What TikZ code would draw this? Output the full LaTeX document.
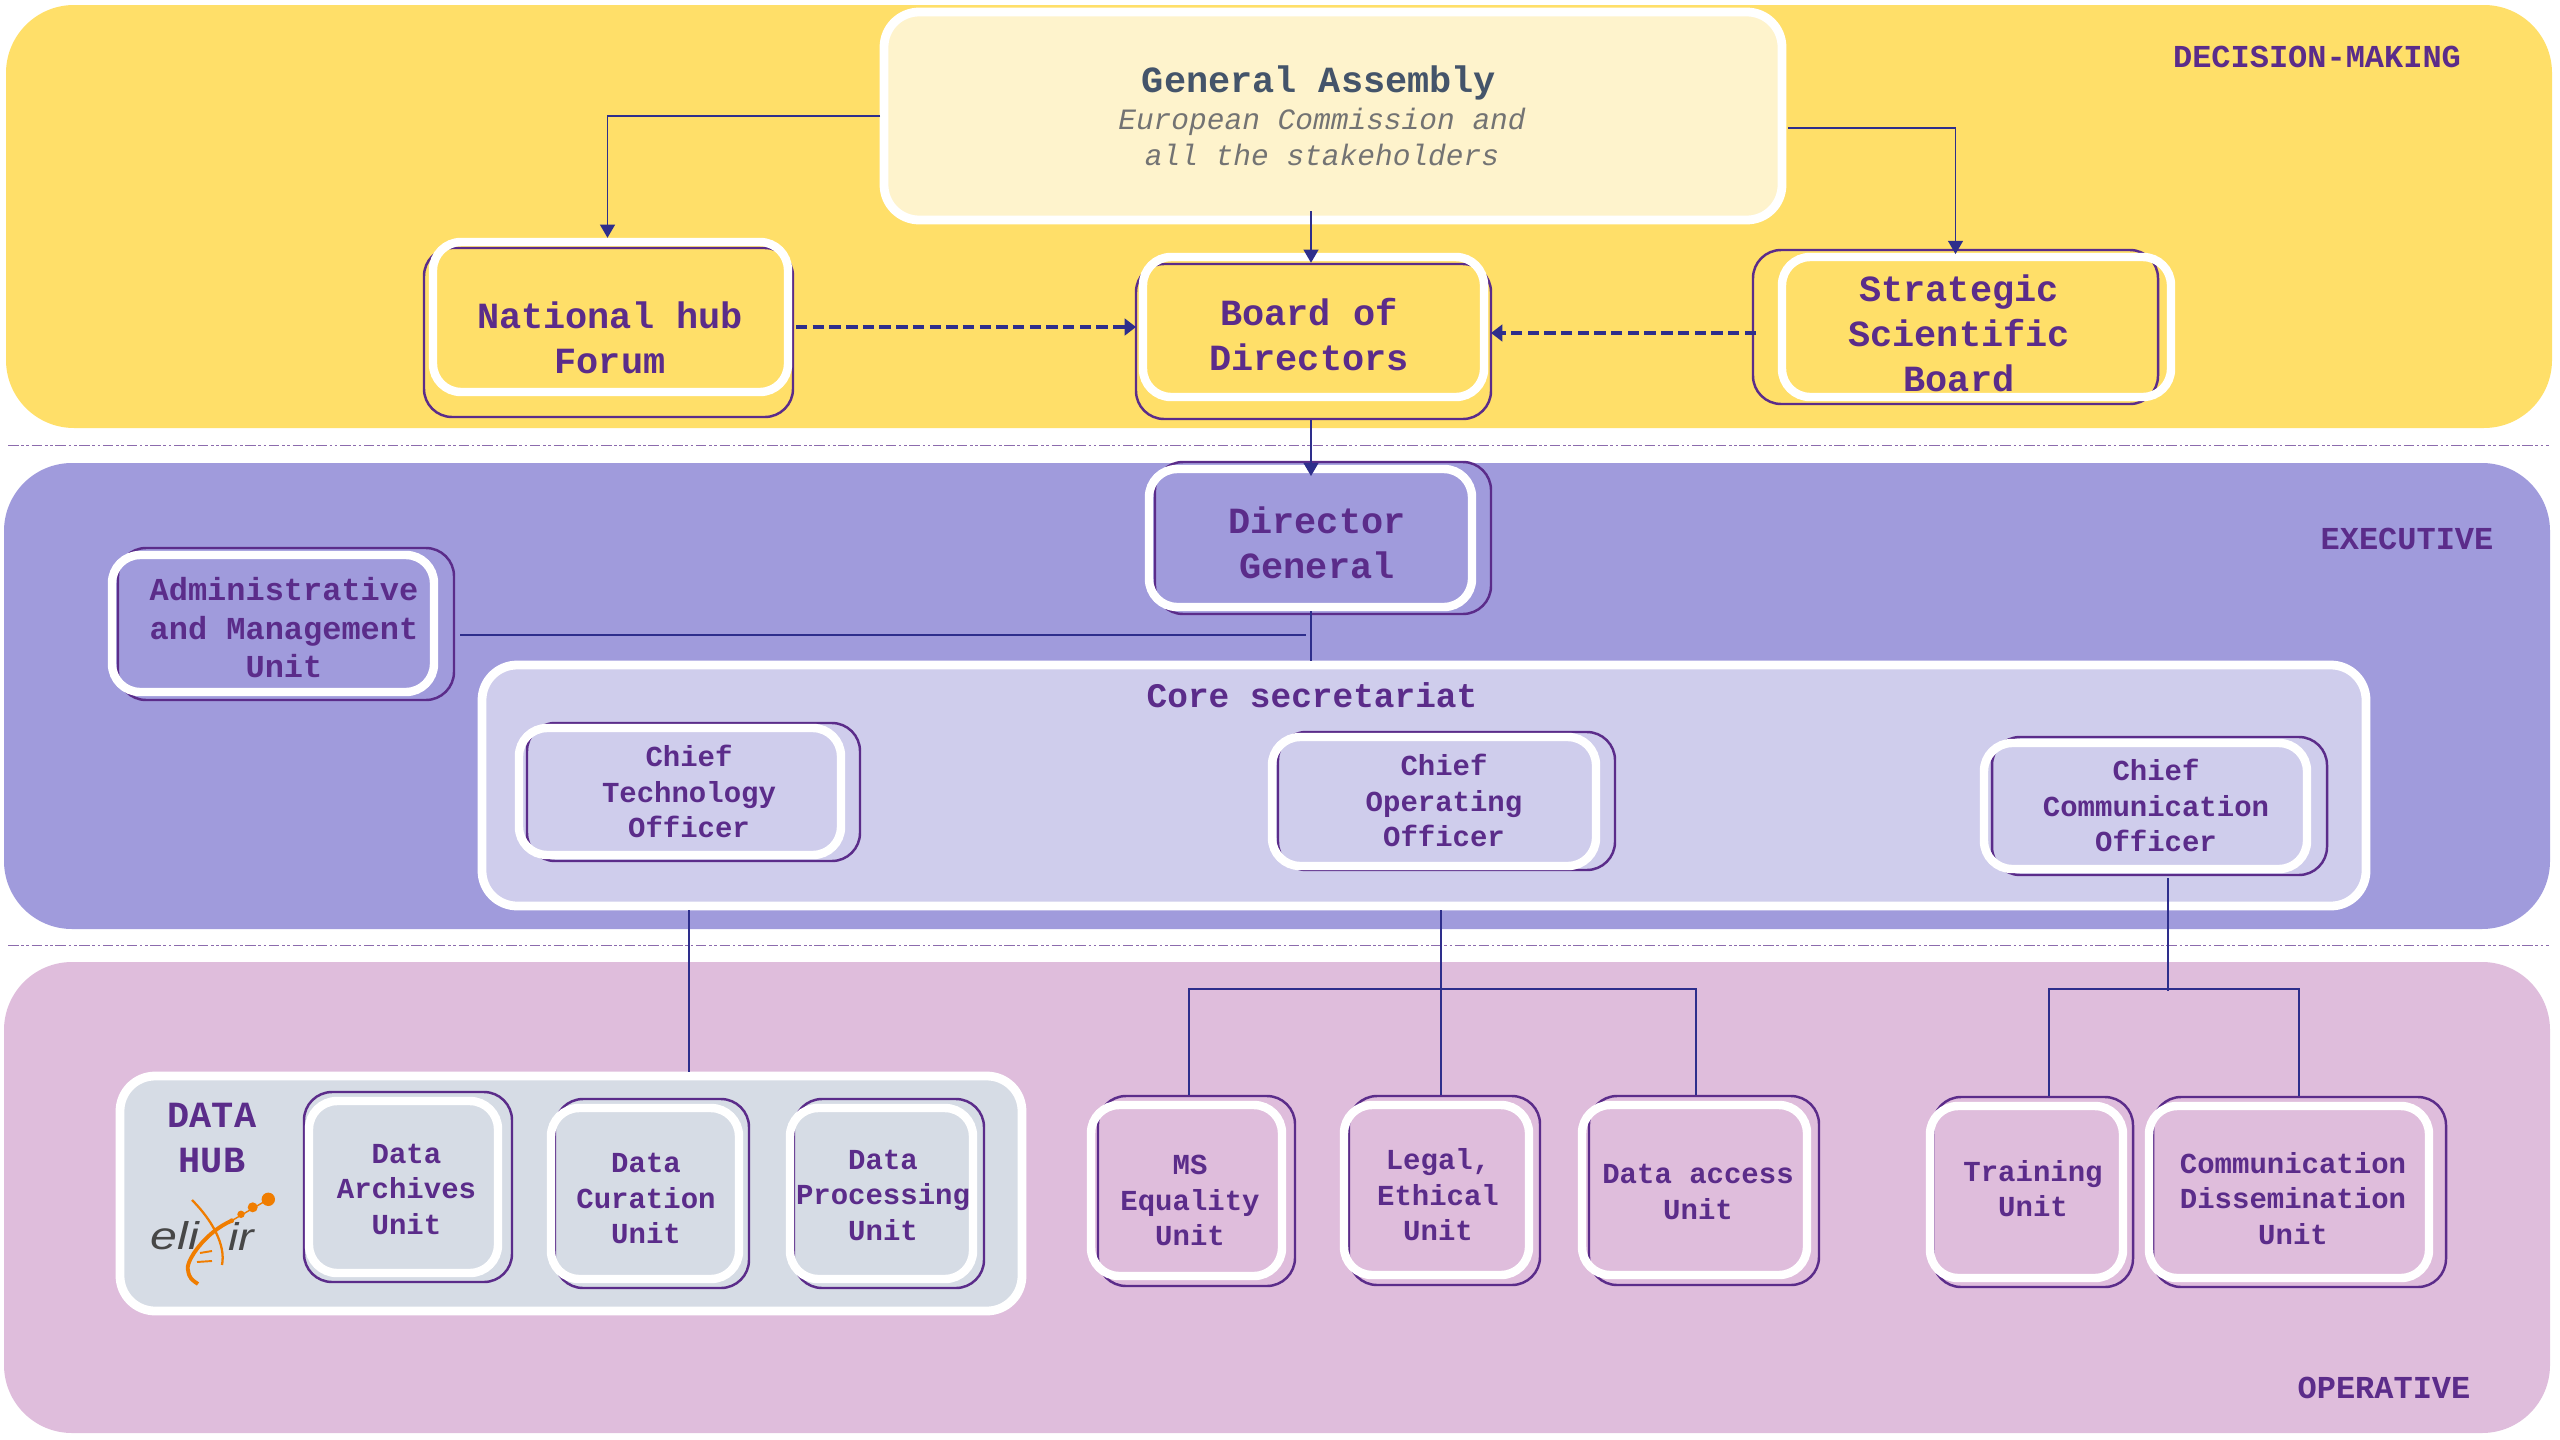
\documentclass[tikz,border=0pt]{standalone}
\usepackage{fontspec}
\setmainfont{Liberation Mono}
\newfontfamily\logofont{Liberation Sans}
\usetikzlibrary{fit,arrows.meta}

\definecolor{tierY}{HTML}{FFDF69}
\definecolor{tierP}{HTML}{A09BDC}
\definecolor{tierR}{HTML}{DFBDDC}
\definecolor{coreC}{HTML}{CFCDEC}
\definecolor{hubC}{HTML}{D6DCE5}
\definecolor{gaC}{HTML}{FEF3CC}
\definecolor{inkC}{HTML}{5B2C8A}
\definecolor{slateC}{HTML}{44546A}
\definecolor{lineC}{HTML}{2E2E8C}
\definecolor{orangeC}{HTML}{F07D00}

\tikzset{
  tier/.style={inner sep=0pt,rounded corners=68*0.02cm},
  frame/.style={draw=inkC,line width=1.4pt,inner sep=0pt,rounded corners=16pt},
  wbox/.style={draw=white,line width=4.8pt,inner sep=0pt,rounded corners=16pt},
  bbox/.style={draw=white,line width=5pt,inner sep=0pt,rounded corners=20pt},
  big/.style={inner sep=0pt,align=center,text=inkC,font=\bfseries\fontsize{21}{25.6}\selectfont},
  small/.style={inner sep=0pt,align=center,text=inkC,font=\bfseries\fontsize{16.5}{20.2}\selectfont},
  tag/.style={inner sep=0pt,text=inkC,font=\bfseries\fontsize{18.2}{22}\selectfont},
  link/.style={draw=lineC,line width=0.85pt},
  linkto/.style={link,-{Triangle[length=7.5pt,width=8.5pt]}},
  dashto/.style={draw=lineC,line width=1.9pt,dash pattern=on 6.5pt off 3pt,-{Triangle[length=6.5pt,width=9.5pt]}},
  sep/.style={draw=inkC!70,line width=0.5pt,dash pattern=on 6pt off 1.5pt on 1.5pt off 1.5pt on 1.5pt off 1.5pt}
}

\begin{document}
\begin{tikzpicture}[x=0.02cm,y=-0.02cm]
  \useasboundingbox (0,0) rectangle (2560,1440);

  % tiers
  \node (decision) [tier,fill=tierY,fit={(6,5) (2552,428)}] {};
  \node (executive) [tier,fill=tierP,fit={(4,463) (2550,929)}] {};
  \node (operative) [tier,fill=tierR,fit={(4,962) (2550,1433)}] {};
  \node (decisiontag) at (2317,57) [tag] {DECISION-MAKING};
  \node (executivetag) at (2407,539) [tag] {EXECUTIVE};
  \node (operativetag) at (2384,1388) [tag] {OPERATIVE};

  \coordinate (sepa) at (8,445);
  \coordinate (sepb) at (2549,445);
  \coordinate (sepc) at (8,945);
  \coordinate (sepd) at (2549,945);
  \draw[sep] (sepa) to (sepb);
  \draw[sep] (sepc) to (sepd);

  % decision-making
  \node (ga) [bbox,fill=gaC,fit={(884,12) (1782,220)}] {};
  \node (gatitle) at (1319,83) [inner sep=0pt,text=slateC,font=\bfseries\fontsize{21}{25}\selectfont] {General Assembly};
  \node (gasub) at (1322,137) [inner sep=0pt,align=center,text=black!55,font=\itshape\fontsize{16.8}{20.6}\selectfont] {European Commission and\\all the stakeholders};

  \node (nhfframe) [frame,fit={(424,248) (793,417)}] {};
  \node (nhf) [wbox,fit={(433,242) (788,392)}] {};
  \node (nhftext) at (610,338) [big] {National hub\\Forum};

  \node (bodframe) [frame,fit={(1136,264) (1491,419)}] {};
  \node (bod) [wbox,fit={(1143,257) (1484,397)}] {};
  \node (bodtext) at (1309,335) [big] {Board of\\Directors};

  \node (ssbframe) [frame,fit={(1753,250) (2158,404)}] {};
  \node (ssb) [wbox,fit={(1782,257) (2171,397)}] {};
  \node (ssbtext) at (1959,333) [big] {Strategic\\Scientific\\Board};

  % executive
  \node (dgframe) [frame,fit={(1155,462) (1491,614)}] {};
  \node (dg) [wbox,fit={(1149,469) (1472,607)}] {};
  \node (dgtext) at (1317,542.5) [big] {Director\\General};

  \node (amuframe) [frame,fit={(118,548) (454,700)}] {};
  \node (amu) [wbox,fit={(112,555) (434,692)}] {};
  \node (amutext) at (284,628) [tag,align=center,font=\bfseries\fontsize{18.2}{21.9}\selectfont] {Administrative\\and Management\\Unit};

  \node (core) [bbox,fill=coreC,fit={(482,665) (2366,906)}] {};
  \node (coretitle) at (1312,695) [inner sep=0pt,text=inkC,font=\bfseries\fontsize{19.6}{24}\selectfont] {Core secretariat};

  \node (ctoframe) [frame,fit={(527,723) (860,861)}] {};
  \node (cto) [wbox,fit={(519,728) (841,855)}] {};
  \node (ctotext) at (689,791.5) [small] {Chief\\Technology\\Officer};

  \node (cooframe) [frame,fit={(1278,732) (1615,870)}] {};
  \node (coo) [wbox,fit={(1272,737) (1596,866)}] {};
  \node (cootext) at (1444,800.5) [small] {Chief\\Operating\\Officer};

  \node (ccoframe) [frame,fit={(1992,737) (2327,875)}] {};
  \node (cco) [wbox,fit={(1984,743) (2307,869)}] {};
  \node (ccotext) at (2156,805.5) [small] {Chief\\Communication\\Officer};

  % operative
  \node (hub) [bbox,fill=hubC,fit={(120,1076) (1022,1311)}] {};
  \node (hubtext) at (212,1138) [big] {DATA\\HUB};

  \node (dauframe) [frame,fit={(304,1092) (512,1282)}] {};
  \node (dau) [wbox,fit={(309,1101) (498,1273)}] {};
  \node (dautext) at (406.5,1189) [small] {Data\\Archives\\Unit};

  \node (dcuframe) [frame,fit={(555,1099) (749,1288)}] {};
  \node (dcu) [wbox,fit={(551,1108) (739,1279)}] {};
  \node (dcutext) at (646,1198.5) [small] {Data\\Curation\\Unit};

  \node (dpuframe) [frame,fit={(794,1099) (984,1288)}] {};
  \node (dpu) [wbox,fit={(790,1108) (973,1279)}] {};
  \node (dputext) at (883,1195) [small] {Data\\Processing\\Unit};

  \node (msuframe) [frame,fit={(1098,1096) (1295,1286)}] {};
  \node (msu) [wbox,fit={(1091,1105) (1282,1276)}] {};
  \node (msutext) at (1190,1200.5) [small] {MS\\Equality\\Unit};

  \node (leuframe) [frame,fit={(1349,1096) (1540,1285)}] {};
  \node (leu) [wbox,fit={(1344,1105) (1529,1275)}] {};
  \node (leutext) at (1438,1195) [small] {Legal,\\Ethical\\Unit};

  \node (dacframe) [frame,fit={(1589,1096) (1819,1285)}] {};
  \node (dac) [wbox,fit={(1582,1105) (1807,1275)}] {};
  \node (dactext) at (1698,1192) [small] {Data access\\Unit};

  \node (truframe) [frame,fit={(1933,1097) (2133,1287)}] {};
  \node (tru) [wbox,fit={(1930,1106) (2123,1278)}] {};
  \node (trutext) at (2033,1188.5) [small] {Training\\Unit};

  \node (cduframe) [frame,fit={(2153,1097) (2446,1287)}] {};
  \node (cdu) [wbox,fit={(2149,1106) (2429,1278)}] {};
  \node (cdutext) at (2293,1198.5) [small] {Communication\\Dissemination\\Unit};

  % logo
  \node (logoa) at (175,1236) [inner sep=0pt,text=black!72,font=\logofont\itshape\fontsize{22}{22}\selectfont] {\scalebox{1.25}[1]{eli}};
  \node (logob) at (241,1236) [inner sep=0pt,text=black!72,font=\logofont\itshape\fontsize{22}{22}\selectfont] {\scalebox{1.2}[1]{ir}};
  \fill[orangeC] (268.3,1199.3) circle (6.7);
  \fill[orangeC] (252.7,1207.3) circle (5);
  \fill[orangeC] (241,1214.3) circle (3.7);
  \fill[orangeC] (231.7,1220.7) circle (2.4);
  \draw[orangeC,line width=0.8pt] (268.3,1199.3) to (231.7,1220.7);
  \draw[orangeC,line width=1.3pt] (192,1200) .. controls (212,1220) and (226,1245) .. (222,1265);
  \draw[orangeC,line width=2.2pt] (231.7,1220.7) .. controls (205,1232) and (185,1262) .. (188,1270) .. controls (189,1278) and (192,1280) .. (198,1284);
  \draw[orangeC,line width=1.1pt] (200,1253) to (212,1251);
  \draw[orangeC,line width=1.1pt] (197,1262) to (212,1261);

  % connectors
  \coordinate (garight) at (1788,128);
  \coordinate (galeft) at (880,116);
  \coordinate (nhfup) at (607.5,116);
  \coordinate (gadown) at (1311,211);
  \coordinate (dgtop) at (1311,476);
  \draw[linkto] (galeft) to (nhfup) to (nhfup |- nhf.north);
  \draw[linkto,shorten >=-3pt] (garight) -| (ssbframe.north);
  \draw[linkto] (gadown) to (gadown |- bodframe.north);
  \draw[linkto] (gadown |- bodframe.south) to (dgtop);

  \coordinate (nhfout) at (796,327);
  \coordinate (bodin) at (1136,327);
  \coordinate (ssbout) at (1756,333);
  \coordinate (bodinb) at (1491,333);
  \draw[dashto] (nhfout) to (bodin);
  \draw[dashto] (ssbout) to (bodinb);

  \coordinate (amuout) at (460,635);
  \coordinate (dgjoin) at (1306,635);
  \coordinate (dgdown) at (1311,611);
  \draw[link] (amuout) to (dgjoin);
  \draw[link] (dgdown) to (dgdown |- core.north);

  \coordinate (ctodown) at (689,910);
  \coordinate (coodown) at (1441,910);
  \coordinate (ccodown) at (2168,878);
  \coordinate (ccojoin) at (2168,991);
  \coordinate (msuup) at (1189,989);
  \coordinate (dacup) at (1696,989);
  \coordinate (truup) at (2049,989);
  \coordinate (cduup) at (2299,989);
  \draw[link] (ctodown) to (ctodown |- hub.north);
  \draw[link] (coodown) to (coodown |- leuframe.north);
  \draw[link] (ccodown) to (ccojoin);
  \draw[link] (msuup |- msuframe.north) to (msuup) to (dacup) to (dacup |- dacframe.north);
  \draw[link] (truup |- truframe.north) to (truup) to (cduup) to (cduup |- cduframe.north);
\end{tikzpicture}
\end{document}
